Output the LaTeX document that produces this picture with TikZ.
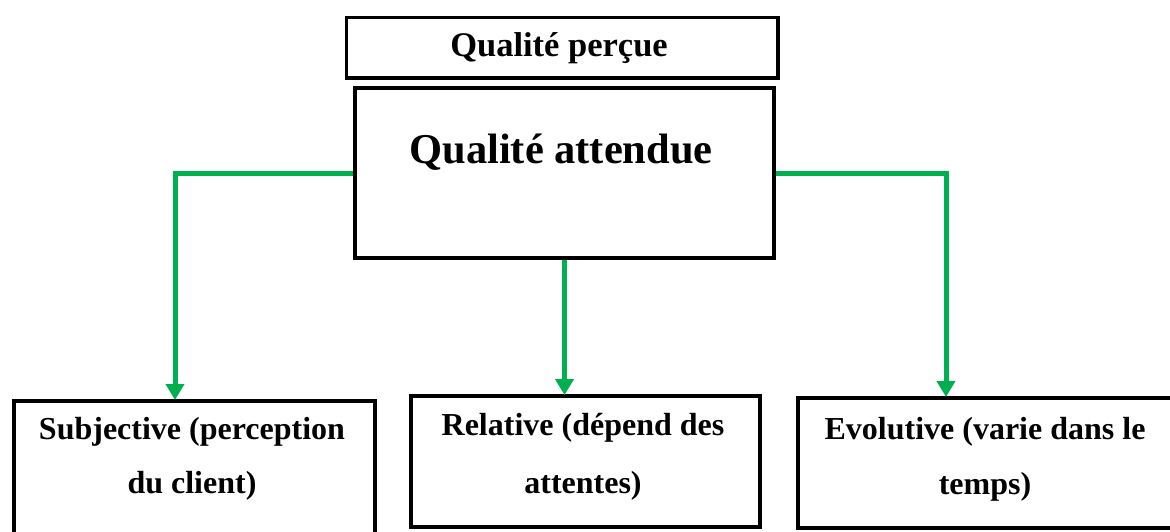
\documentclass[tikz,border=0pt]{standalone}
\usepackage{fontspec}
\setmainfont{Liberation Serif}
\usetikzlibrary{arrows.meta}
\definecolor{linkgreen}{RGB}{0,176,80}
\tikzset{
  frame/.style={draw=black, line width=#1, fill=white, inner sep=0pt, anchor=north west},
  frame/.default=4pt,
  label/.style={font=\bfseries, align=center, inner sep=0pt},
  link/.style={draw=linkgreen, line width=5pt,
    -{Triangle[width=18pt,length=16pt]}, shorten >=-1pt}
}
\begin{document}
\begin{tikzpicture}[x=1pt,y=-1pt]
  \useasboundingbox (0,0) rectangle (1170,531);
  \clip (0,0) rectangle (1170,531);

  % upper boxes
  \node[frame=3.5pt, minimum width=431.5pt, minimum height=60.5pt] (percue) at (344.75,15.75) {};
  \node[label, font=\bfseries\fontsize{34.5}{40}\selectfont] (percue-t) at (559,48) {Qualité perçue};

  \node[frame, minimum width=419pt, minimum height=170pt] (attendue) at (353,86) {};
  \node[label, font=\bfseries\fontsize{42.5}{48}\selectfont] (attendue-t) at (561,152) {Qualité attendue};

  % lower boxes
  \node[frame, minimum width=361pt, minimum height=160pt] (subj) at (12,399) {};
  \node[label, font=\bfseries\fontsize{32}{54}\selectfont] (subj-t) at (192,459) {Subjective (perception\\du client)};

  \node[frame, minimum width=349pt, minimum height=131pt] (rel) at (409,394) {};
  \node[label, font=\bfseries\fontsize{32}{58}\selectfont] (rel-t) at (583,457) {Relative (dépend des\\attentes)};

  \node[frame, minimum width=400pt, minimum height=130pt] (evol) at (796,396) {};
  \node[label, font=\bfseries\fontsize{32}{55}\selectfont] (evol-t) at (985,459) {Evolutive (varie dans le\\temps)};

  % green connectors
  \draw[link] (attendue.west) -| ([xshift=-19.5pt]subj.north);
  \draw[link] (attendue.south) -- (attendue.south |- rel.north);
  \draw[link] (attendue.east) -| ([xshift=150pt]evol.north west);
\end{tikzpicture}
\end{document}
